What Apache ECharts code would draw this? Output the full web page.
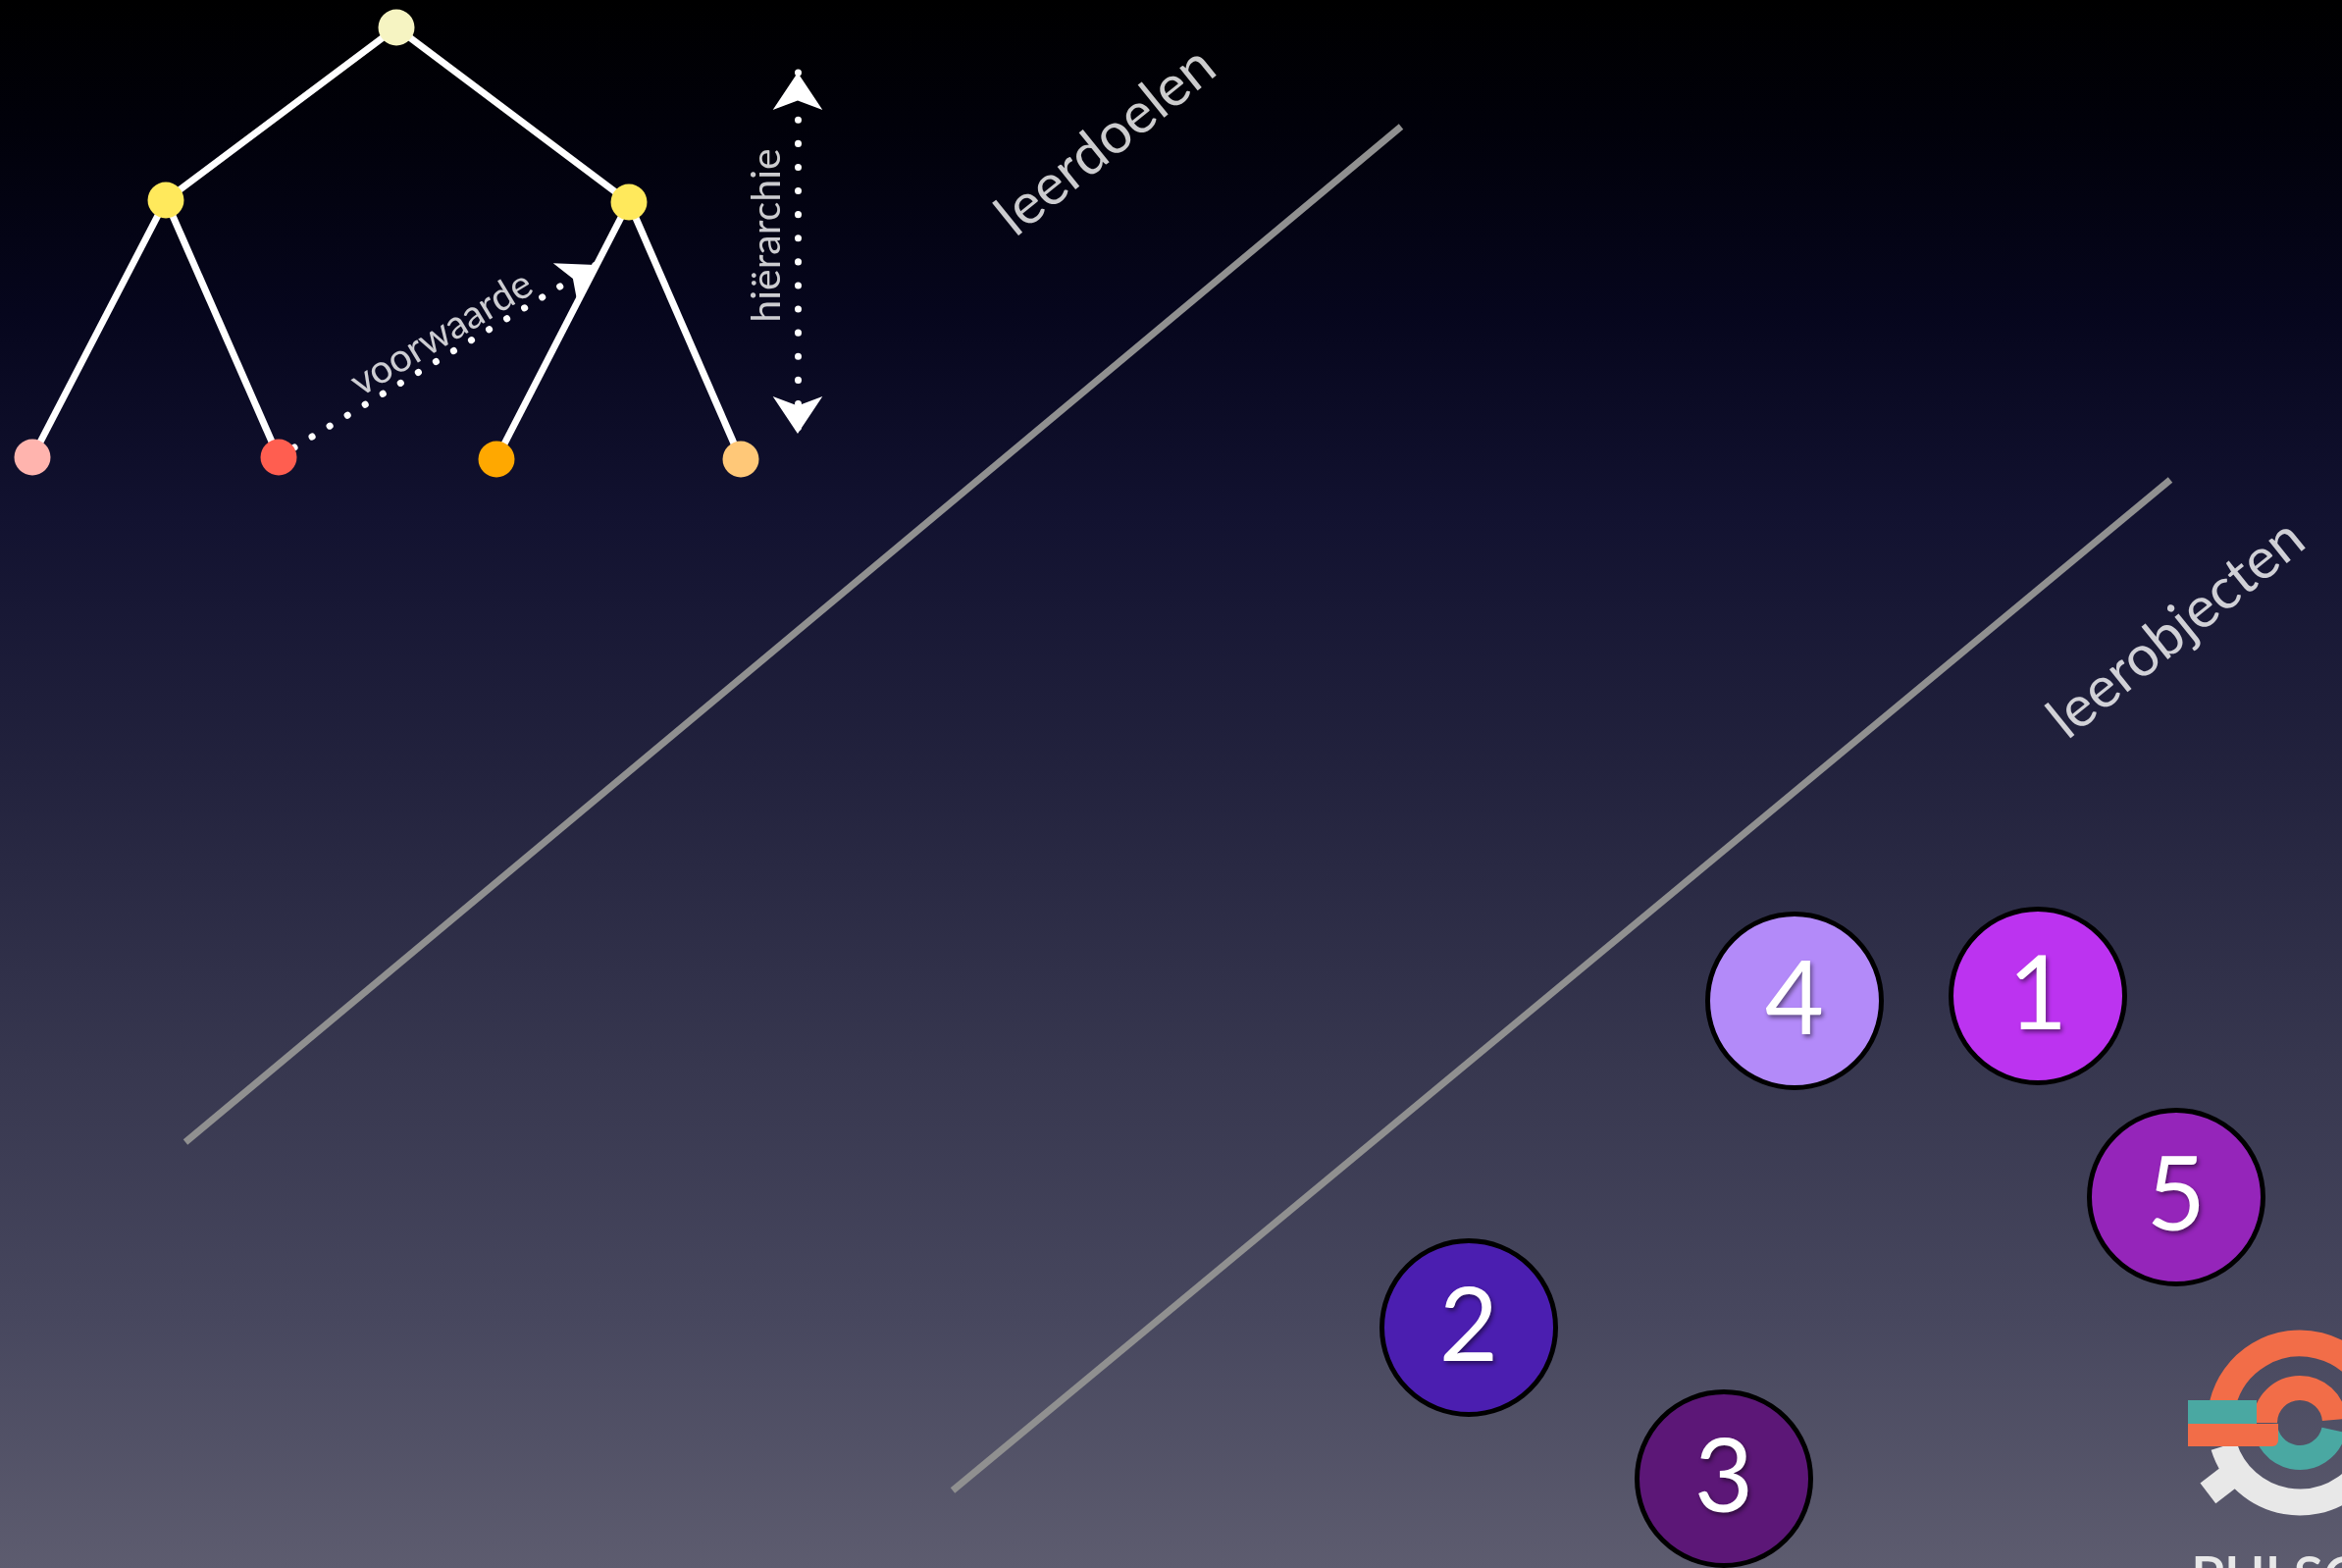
<!DOCTYPE html>
<html>
<head>
<meta charset="utf-8">
<title>leerdoelen en leerobjecten</title>
<script src="https://cdn.jsdelivr.net/npm/echarts@6/dist/echarts.min.js"></script>
<style>
  html, body { margin: 0; padding: 0; }
  body {
    background: linear-gradient(to bottom,
      #000000 0%, #01010a 8%, #06061d 20%, #121230 33%,
      #23233e 50%, #37374f 68%, #47475e 84%, #5d5c6f 100%);
  }
  #main { width: 2387px; height: 1598px; }
</style>
</head>
<body>
<div id="main"></div>
<script>
// boom met leerdoelen (x, y op de dia)
const treeNodes = [[404, 28], [169, 204], [641, 206], [33, 466], [284, 466], [506, 468], [755, 468]];
const treeColors = ['#F6F4C2', '#FFE95C', '#FFE95C', '#FFB4AE', '#FF5E50', '#FFA800', '#FFC878'];
const treeEdges = [[0, 1], [0, 2], [1, 3], [1, 4], [2, 5], [2, 6]];

// gestippelde pijlen: voorwaarde, hiërarchie
const prereqArrow = [[300, 456], [607, 270]];
const hierarchyArrow = [[813, 74], [813, 442]];

// grijze scheidingslijnen
const guideLines = [
  [[189, 1164], [1428, 129]],
  [[971, 1519], [2212, 489]]
];

// teksten
const labelTexts = ['voorwaarde', 'hiërarchie', 'leerdoelen', 'leerobjecten'];
const labelPos = [[450, 340], [782, 240], [1127, 144], [2218, 641]];
const labelAngles = [31, 90, 39, 39];
const labelSizes = [40, 41, 58, 58];

// leerobjecten
const objectNames = ['1', '2', '3', '4', '5'];
const objectPos = [[2077, 1015], [1497, 1353], [1757, 1507], [1829, 1020], [2218, 1220]];
const objectColors = ['#BC33F0', '#4B1EB0', '#5C1777', '#B38AF9', '#9525BA'];

// logo rechtsonder
const logoCenter = [[2344, 1450]];

const init = () => {
  let myChart = echarts.init(document.getElementById('main'));
  const d = Math.PI / 180;

  let option = {
    animation: false,
    grid: { left: 0, right: 0, top: 0, bottom: 0 },
    xAxis: { type: 'value', min: 0, max: 2387, show: false },
    yAxis: { type: 'value', min: 0, max: 1598, inverse: true, show: false },
    series: [
      {
        name: 'lijnen',
        type: 'lines',
        coordinateSystem: 'cartesian2d',
        silent: true,
        lineStyle: { color: '#909090', width: 7, opacity: 1 },
        data: guideLines.map(l => ({ coords: l }))
      },
      {
        name: 'takken',
        type: 'lines',
        coordinateSystem: 'cartesian2d',
        silent: true,
        lineStyle: { color: '#ffffff', width: 7, opacity: 1 },
        data: treeEdges.map(e => ({ coords: [treeNodes[e[0]], treeNodes[e[1]]] }))
      },
      {
        name: 'voorwaarde',
        type: 'lines',
        coordinateSystem: 'cartesian2d',
        silent: true,
        symbol: ['none', 'arrow'],
        symbolSize: 36,
        lineStyle: { color: '#ffffff', width: 7, type: [0.1, 21], cap: 'round', opacity: 1 },
        data: [{ coords: prereqArrow }]
      },
      {
        name: 'hierarchie',
        type: 'lines',
        coordinateSystem: 'cartesian2d',
        silent: true,
        symbol: ['arrow', 'arrow'],
        symbolSize: 38,
        lineStyle: { color: '#ffffff', width: 7, type: [0.1, 24], cap: 'round', opacity: 1 },
        data: [{ coords: hierarchyArrow }]
      },
      {
        name: 'knopen',
        type: 'scatter',
        silent: true,
        symbolSize: 37,
        data: treeNodes.map((p, i) => ({ value: p, itemStyle: { color: treeColors[i], opacity: 1 } }))
      },
      {
        name: 'leerobjecten',
        type: 'scatter',
        silent: true,
        symbolSize: 177,
        itemStyle: { borderColor: '#000', borderWidth: 5, opacity: 1 },
        label: {
          show: true,
          position: 'inside',
          formatter: p => objectNames[p.dataIndex],
          color: '#fff',
          fontFamily: 'Lato',
          fontSize: 104,
          textShadowColor: 'rgba(0,0,0,0.45)',
          textShadowBlur: 4,
          textShadowOffsetX: 2,
          textShadowOffsetY: 3
        },
        data: objectPos.map((p, i) => ({ value: p, itemStyle: { color: objectColors[i] } }))
      },
      {
        name: 'teksten',
        type: 'scatter',
        silent: true,
        symbolSize: 0,
        data: labelPos.map((p, i) => ({
          value: p,
          label: {
            show: true,
            position: 'inside',
            formatter: labelTexts[i],
            rotate: labelAngles[i],
            fontSize: labelSizes[i],
            fontFamily: 'Lato',
            color: '#fff'
          }
        }))
      },
      {
        name: 'logo',
        type: 'custom',
        silent: true,
        data: logoCenter,
        renderItem: (params, api) => {
          const c = api.coord([api.value(0), api.value(1)]);
          const cx = c[0], cy = c[1];
          const tailA = 142.5 * d;
          return {
            type: 'group',
            children: [
              { type: 'arc', shape: { cx, cy, r: 81, startAngle: 10 * d, endAngle: 163 * d, clockwise: true },
                style: { stroke: '#E8E8E8', lineWidth: 27, fill: null } },
              { type: 'line', shape: { x1: cx + 84 * Math.cos(tailA), y1: cy + 84 * Math.sin(tailA),
                                      x2: cx + 118 * Math.cos(tailA), y2: cy + 118 * Math.sin(tailA) },
                style: { stroke: '#E8E8E8', lineWidth: 26 } },
              { type: 'arc', shape: { cx, cy, r: 81, startAngle: 194 * d, endAngle: 372 * d, clockwise: true },
                style: { stroke: '#F26D48', lineWidth: 27, fill: null } },
              { type: 'arc', shape: { cx, cy, r: 35.5, startAngle: 12 * d, endAngle: 178 * d, clockwise: true },
                style: { stroke: '#4AA8A2', lineWidth: 25, fill: null } },
              { type: 'arc', shape: { cx, cy, r: 35.5, startAngle: 180 * d, endAngle: 355 * d, clockwise: true },
                style: { stroke: '#F26D48', lineWidth: 25, fill: null } },
              { type: 'rect', shape: { x: cx - 114, y: cy - 23, width: 70, height: 24 },
                style: { fill: '#4AA8A2' } },
              { type: 'rect', shape: { x: cx - 114, y: cy + 1, width: 92, height: 23, r: [0, 0, 6, 0] },
                style: { fill: '#F26D48' } },
              { type: 'text', x: cx - 111, y: cy + 130,
                style: { text: 'PULSO', fill: '#E8E8E8', fontSize: 56, fontFamily: 'Lato', fontWeight: 600,
                         align: 'left', verticalAlign: 'top' } }
            ]
          };
        }
      }
    ]
  };

  option && myChart.setOption(option);
};

init();
</script>
</body>
</html>
